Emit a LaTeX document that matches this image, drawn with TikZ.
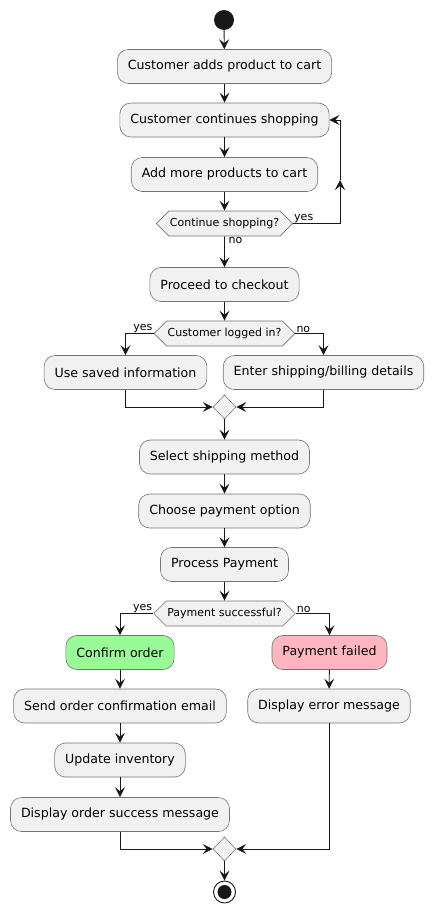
\documentclass[tikz,border=0pt]{standalone}
\usepackage{fontspec}
\setmainfont{DejaVu Sans}
\usetikzlibrary{arrows.meta, shapes.geometric, shapes.symbols, positioning}
\definecolor{boxfill}{HTML}{F1F1F1}
\definecolor{linecol}{HTML}{181818}
\definecolor{okgreen}{HTML}{98FB98}
\definecolor{failpink}{HTML}{FFB6C1}

\tikzset{
	act/.style={draw=black!55, fill=boxfill, rounded corners=11pt, line width=0.6pt,
		minimum height=34pt, inner xsep=10.5pt, font=\fontsize{12.6}{15}\selectfont},
	ifbox/.style={signal, signal to=east and west, draw=black!55, fill=boxfill,
		line width=0.6pt, minimum height=25pt, inner xsep=1pt, font=\fontsize{11}{13}\selectfont},
	merge/.style={diamond, draw=black!55, fill=boxfill, line width=0.6pt,
		minimum width=23pt, minimum height=24pt, inner sep=0pt},
	flow/.style={draw=linecol, line width=0.9pt, -{Stealth[length=10pt,width=10pt,inset=4pt]}},
	lbl/.style={font=\fontsize{11}{13}\selectfont, inner sep=1pt},
}

\begin{document}
\begin{tikzpicture}[x=1pt, y=-1pt]
	\useasboundingbox (0,0) rectangle (432,913);
	% NOTE: y runs downwards here, so coordinates are the pixel rows.
	\node[circle, fill=linecol, minimum size=20pt, inner sep=0pt] (start) at (224,20) {};
	\node[act] (addcart) at (224.5,66.5) {Customer adds product to cart};
	\node[act] (shopping) at (224.5,120) {Customer continues shopping};
	\node[act] (addmore) at (224.5,174.5) {Add more products to cart};
	\node[ifbox] (contq) at (224.5,223.5) {Continue shopping?};
	\node[act] (checkout) at (224.5,284.5) {Proceed to checkout};
	\node[ifbox] (loggedq) at (224.5,333.5) {Customer logged in?};
	\node[act] (saved) at (125.5,372.5) {Use saved information};
	\node[act] (enter) at (323.5,372.5) {Enter shipping/billing details};
	\node[merge] (join1) at (224.5,407) {};
	\node[act] (shipmeth) at (224.5,457) {Select shipping method};
	\node[act] (payopt) at (224.5,511) {Choose payment option};
	\node[act] (process) at (224.5,564.5) {Process Payment};
	\node[ifbox] (paidq) at (224.5,613.5) {Payment successful?};
	\node[act, fill=okgreen] (confirm) at (120,652.5) {Confirm order};
	\node[act, fill=failpink] (failed) at (329.5,652.5) {Payment failed};
	\node[act] (email) at (120,706) {Send order confirmation email};
	\node[act] (errmsg) at (329,706) {Display error message};
	\node[act] (inventory) at (120,760) {Update inventory};
	\node[act] (success) at (120,814.5) {Display order success message};
	\node[merge] (join2) at (224.5,849) {};
	\node[circle, draw=linecol, line width=0.9pt, minimum size=22pt, inner sep=0pt] (stop) at (224.5,892) {};
	\fill[linecol] (stop) circle (7pt);

	\coordinate (loop) at (340,180);

	\draw[flow] (start) -- (addcart);
	\draw[flow] (addcart) -- (shopping);
	\draw[flow] (shopping) -- (addmore);
	\draw[flow] (addmore) -- (contq);
	\draw[flow] (contq.east) -| (loop);
	\draw[flow] (loop) |- (shopping.east);
	\draw[flow] (contq) -- (checkout);
	\draw[flow] (checkout) -- (loggedq);
	\draw[flow] (loggedq.west) -| (saved.north);
	\draw[flow] (loggedq.east) -| (enter.north);
	\draw[flow] (saved.south) |- (join1.west);
	\draw[flow] (enter.south) |- (join1.east);
	\draw[flow] (join1) -- (shipmeth);
	\draw[flow] (shipmeth) -- (payopt);
	\draw[flow] (payopt) -- (process);
	\draw[flow] (process) -- (paidq);
	\draw[flow] (paidq.west) -| (confirm.north);
	\draw[flow] (paidq.east) -| (failed.north);
	\draw[flow] (confirm) -- (email);
	\draw[flow] (email) -- (inventory);
	\draw[flow] (inventory) -- (success);
	\draw[flow] (failed) -- (errmsg);
	\draw[flow] (success.south) |- (join2.west);
	\draw[flow] (errmsg.south) |- (join2.east);
	\draw[flow] (join2) -- (stop);

	\node[lbl, anchor=south west] (yes1) at (contq.east) {yes};
	\node[lbl, anchor=north west, xshift=3pt] (no1) at (contq.south) {no};
	\node[lbl, anchor=south east] (yes2) at (loggedq.west) {yes};
	\node[lbl, anchor=south west] (no2) at (loggedq.east) {no};
	\node[lbl, anchor=south east] (yes3) at (paidq.west) {yes};
	\node[lbl, anchor=south west] (no3) at (paidq.east) {no};
\end{tikzpicture}
\end{document}
